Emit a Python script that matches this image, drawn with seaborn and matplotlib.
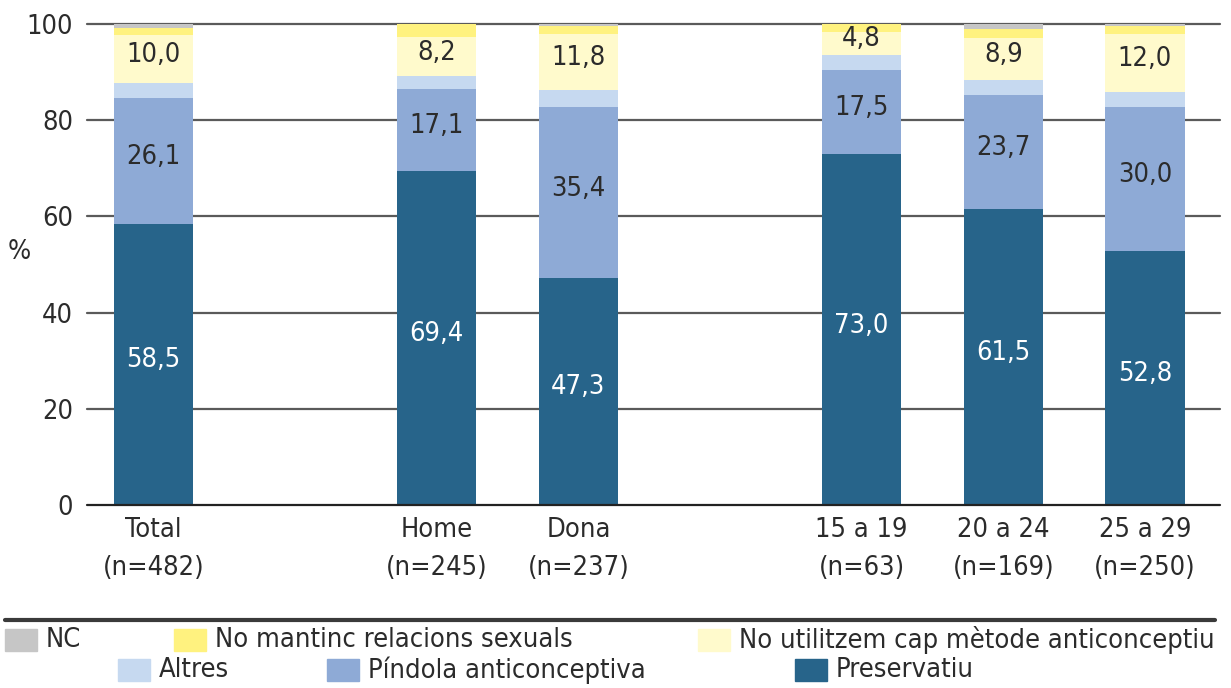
import pandas as pd
import matplotlib.pyplot as plt
import matplotlib.patches as mpatches
import seaborn as sns

sns.set_style("white")
plt.rcParams['font.family'] = ['DejaVu Sans']
plt.rcParams['font.stretch'] = 'condensed'

# Data (percentages)
groups = ["Total", "Home", "Dona", "15 a 19", "20 a 24", "25 a 29"]
group_n = ["(n=482)", "(n=245)", "(n=237)", "(n=63)", "(n=169)", "(n=250)"]
preservatiu = [58.5, 69.4, 47.3, 73.0, 61.5, 52.8]
pindola = [26.1, 17.1, 35.4, 17.5, 23.7, 30.0]
altres = [3.1, 2.6, 3.5, 3.1, 3.1, 3.1]
no_utilitzem = [10.0, 8.2, 11.8, 4.8, 8.9, 12.0]
no_mantinc = [1.5, 2.7, 1.5, 1.6, 1.7, 1.6]
nc = [0.8, 0.0, 0.5, 0.0, 1.1, 0.5]

series_names = ["Preservatiu", "Píndola anticonceptiva", "Altres",
                "No utilitzem cap mètode anticonceptiu",
                "No mantinc relacions sexuals", "NC"]
series_vals = [preservatiu, pindola, altres, no_utilitzem, no_mantinc, nc]
colors = ["#27648a", "#8eaad6", "#c6d9f0", "#fffacc", "#fff27f", "#c6c6c6"]
labelled = {"Preservatiu": "white", "Píndola anticonceptiva": "#2b2b2b",
            "No utilitzem cap mètode anticonceptiu": "#2b2b2b"}

# category order with empty spacer slots between blocks
order = ["Total", " ", "Home", "Dona", "  ", "15 a 19", "20 a 24", "25 a 29"]

df = pd.DataFrame({"grup": groups})
bottom = [0.0] * len(groups)
cums = []
for vals in series_vals:
    top = [b + v for b, v in zip(bottom, vals)]
    cums.append((list(bottom), top))
    bottom = top

FS = 19.5
fig = plt.figure(figsize=(12.31, 6.88), dpi=100)
ax = fig.add_axes([0.0707, 0.266, 0.9203, 0.699])

# horizontal gridlines behind bars
for yv in [20, 40, 60, 80, 100]:
    ax.axhline(yv, color="#5a5a5a", lw=1.6, zorder=0, clip_on=False)
ax.axhline(0, color="#222222", lw=1.6, zorder=3, clip_on=False)

# draw stacked bars: largest cumulative first, smaller layered on top
for i in range(len(series_vals) - 1, -1, -1):
    d = df.copy()
    d["val"] = cums[i][1]
    sns.barplot(data=d, x="grup", y="val", order=order, color=colors[i],
                saturation=1, width=0.56, linewidth=0, ax=ax, zorder=1)

# value labels
pos = {g: order.index(g) for g in groups}
for name, vals, (bot, top) in zip(series_names, series_vals, cums):
    if name not in labelled:
        continue
    for g, v, b, t in zip(groups, vals, bot, top):
        ax.text(pos[g], (b + t) / 2 + 0.8, f"{v:.1f}".replace(".", ","),
                ha="center", va="center", fontsize=FS, color=labelled[name], zorder=4)

ax.set_ylim(0, 100)
ax.set_xlim(-0.47, 7.53)
ax.set_yticks([0, 20, 40, 60, 80, 100])
ax.tick_params(axis="y", labelsize=FS, length=0, pad=10, labelcolor="#2b2b2b")
ax.set_xticks([pos[g] for g in groups])
ax.set_xticklabels([f"{g}\n{n}" for g, n in zip(groups, group_n)],
                   fontsize=FS, color="#2b2b2b", linespacing=1.6)
ax.tick_params(axis="x", length=0, pad=9)
ax.set_xlabel("")
ax.set_ylabel("%", fontsize=FS, rotation=0, color="#2b2b2b", va="center")
ax.yaxis.set_label_coords(-0.06, 0.526)
for s in ax.spines.values():
    s.set_visible(False)

# legend area
fig.add_artist(plt.Line2D([0.004, 0.987], [0.0988, 0.0988], color="#3a3a3a", lw=3,
                          transform=fig.transFigure))
leg_items = [("NC", 5, 640), ("No mantinc relacions sexuals", 174, 640),
             ("No utilitzem cap mètode anticonceptiu", 698, 640),
             ("Altres", 118, 670), ("Píndola anticonceptiva", 327, 670),
             ("Preservatiu", 795, 670)]
W, H = 1231, 688
for name, px, py in leg_items:
    c = colors[series_names.index(name)]
    fig.add_artist(mpatches.Rectangle((px / W, 1 - (py + 11) / H), 32 / W, 22 / H,
                                      color=c, transform=fig.transFigure))
    fig.text((px + 41) / W, 1 - py / H, name, fontsize=FS, color="#2b2b2b",
             va="center", ha="left")

fig.savefig("out.png", dpi=100)
